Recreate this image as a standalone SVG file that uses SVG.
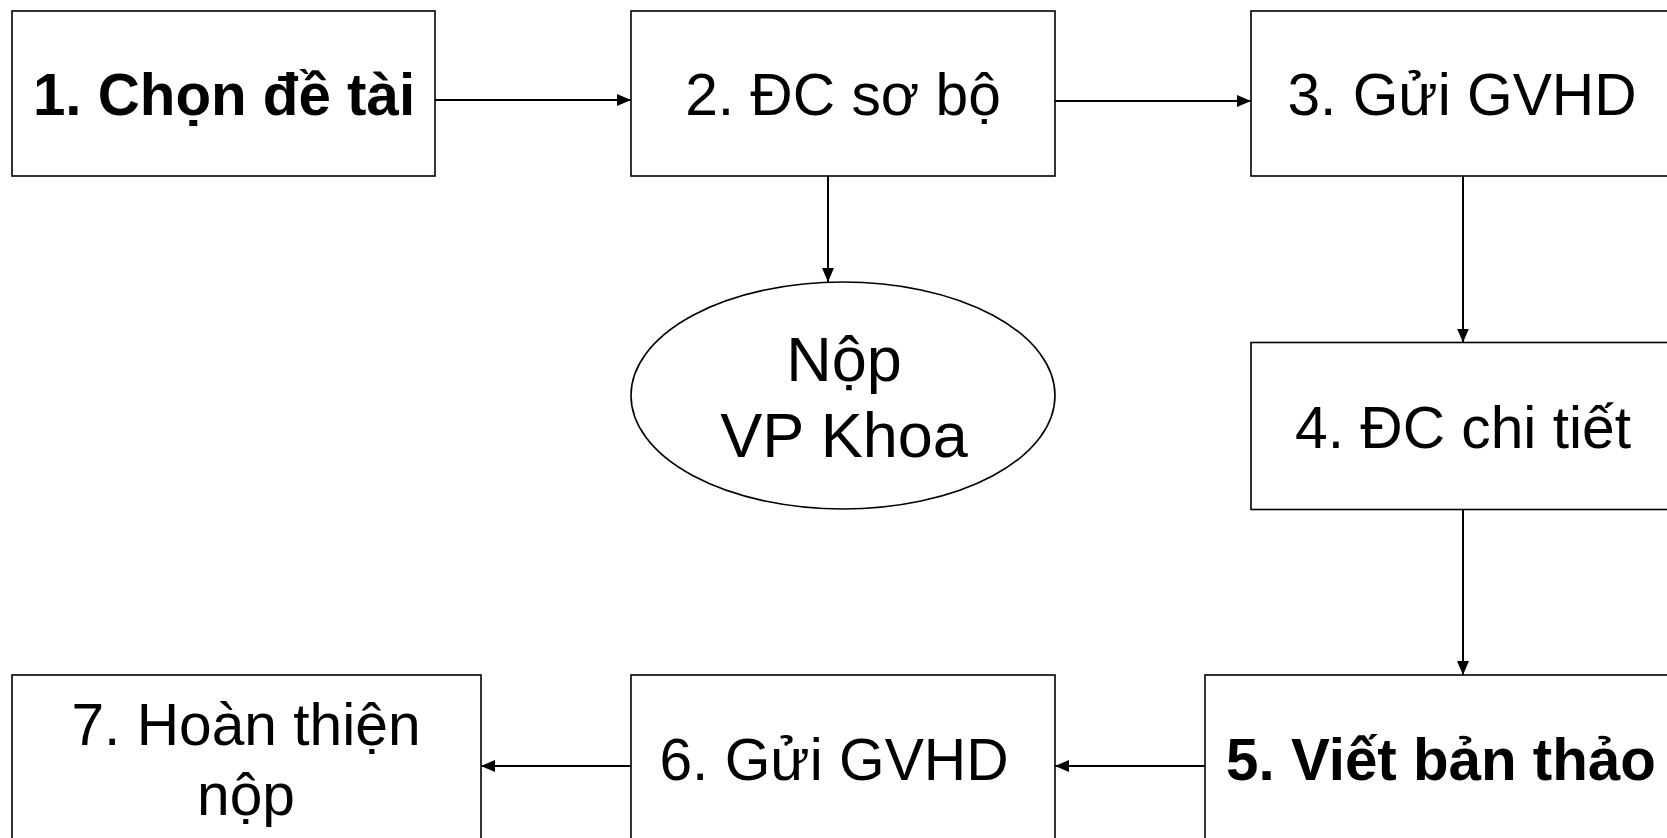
<svg xmlns="http://www.w3.org/2000/svg" width="1667" height="838" viewBox="0 0 1667 838">
<style>
.box{fill:#fff;stroke:#000;stroke-width:1.6}
.t{font-family:"Liberation Sans",Arial,sans-serif;font-size:58.7px;fill:#000;text-anchor:middle}
.b{font-weight:bold;font-size:58.3px}
.e{font-size:63px}
.c{stroke:#000;stroke-width:2;fill:none;marker-end:url(#ah)}
</style>
<defs>
<marker id="ah" viewBox="0 0 14 12" refX="14" refY="6" markerWidth="14" markerHeight="12" markerUnits="userSpaceOnUse" orient="auto">
<path d="M0,0 L14,6 L0,12 Z" fill="#000"/>
</marker>
</defs>
<rect width="1667" height="838" fill="#fff"/>
<g id="connectors">
<line class="c" x1="435" y1="100" x2="631" y2="100"/>
<line class="c" x1="1055" y1="101" x2="1251" y2="101"/>
<line class="c" x1="828" y1="176" x2="828" y2="282"/>
<line class="c" x1="1463" y1="176" x2="1463" y2="342.5"/>
<line class="c" x1="1463" y1="509.5" x2="1463" y2="675"/>
<line class="c" x1="1205" y1="766" x2="1055" y2="766"/>
<line class="c" x1="631" y1="766" x2="481" y2="766"/>
</g>
<g id="n1">
<rect class="box" x="12" y="11" width="423" height="165"/>
<text class="t b" x="224" y="115">1. Chọn đề tài</text>
</g>
<g id="n2">
<rect class="box" x="631" y="11" width="424" height="165"/>
<text class="t" x="843" y="115">2. ĐC sơ bộ</text>
</g>
<g id="n3">
<rect class="box" x="1251" y="11" width="424" height="165"/>
<text class="t" x="1462" y="115">3. Gửi GVHD</text>
</g>
<g id="n_nop">
<ellipse class="box" cx="843" cy="395.5" rx="212" ry="113.5"/>
<text class="t e" x="844" y="381">Nộp</text>
<text class="t e" x="844" y="457">VP Khoa</text>
</g>
<g id="n4">
<rect class="box" x="1251" y="342.5" width="424" height="167"/>
<text class="t" x="1463" y="448">4. ĐC chi tiết</text>
</g>
<g id="n5">
<rect class="box" x="1205" y="675" width="472" height="165"/>
<text class="t b" x="1441" y="780">5. Viết bản thảo</text>
</g>
<g id="n6">
<rect class="box" x="631" y="675" width="424" height="165"/>
<text class="t" x="834" y="780">6. Gửi GVHD</text>
</g>
<g id="n7">
<rect class="box" x="12" y="675" width="469" height="165"/>
<text class="t" x="246" y="745">7. Hoàn thiện</text>
<text class="t" x="246" y="815">nộp</text>
</g>
</svg>
